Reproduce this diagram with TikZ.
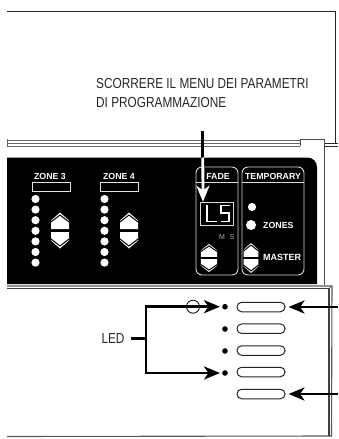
\documentclass[tikz,border=0pt]{standalone}
\usepackage{fontspec}
\setmainfont{Liberation Sans}
\newfontfamily\narrowfont[FakeStretch=0.815]{Liberation Sans}
\usetikzlibrary{arrows.meta}
\tikzset{
  x=1pt,y=-1pt,
  shell/.style={draw=black!70,line width=0.9pt},
  railgray/.style={draw=black!60,line width=1pt},
  panellabel/.style={text=white,font=\bfseries\fontsize{8.8}{9}\selectfont,inner sep=0pt},
  caption/.style={text=black!85,font=\narrowfont\fontsize{14.5}{19}\selectfont,inner sep=0pt,align=left},
  led/.style={circle,fill=white,draw=none,inner sep=0pt,minimum size=8.2pt},
  indicator/.style={circle,fill=black,draw=none,inner sep=0pt,minimum size=5.6pt},
  slot/.style={rounded corners=4.6pt,draw=black!85,fill=white,line width=1pt,minimum width=48pt,minimum height=9.5pt,inner sep=0pt},
  frame/.style={draw=white!85!black,line width=0.9pt,rounded corners=6pt},
  zonebar/.style={draw=white!90!black,line width=0.9pt,minimum width=38pt,minimum height=9pt,inner sep=0pt},
  pointer/.style={line width=2.8pt,-{Stealth[length=16pt,width=13pt,inset=4.5pt]},shorten >=2pt},
  pics/updown/.style={code={
    \fill[white] (0,-18) -- (9,-10) -- (9,-1.5) -- (-9,-1.5) -- (-9,-10) -- cycle;
    \fill[white] (0,18) -- (9,10) -- (9,1.5) -- (-9,1.5) -- (-9,10) -- cycle;
    \draw[black,line width=1pt] (-9,-8.5) -- (0,-15.5) -- (9,-8.5);
    \draw[black,line width=1pt] (-9,8.5) -- (0,15.5) -- (9,8.5);
  }}
}
\begin{document}
\begin{tikzpicture}
\useasboundingbox (0,0) rectangle (338,439);
% housing, upper part
\draw[black!85,line width=0.9pt] (7,11) -- (335,11) -- (335,143);
\draw[railgray] (7,140.5) -- (300,140.5);
\draw[railgray] (7,143.3) -- (300,143.3);
\draw[railgray] (7,146) -- (300,146);
\draw[railgray] (7,139) -- (7,147);
\draw[shell] (300,146) -- (300,139) -- (324.5,139) -- (324.5,285);
\draw[black!85,line width=0.9pt] (324.5,143) -- (338,143);
\draw[black!85,line width=0.9pt] (324.5,146.5) -- (338,146.5);
% black panel
\fill[black] (7,157.5) -- (307,157.5) .. controls (313,157.5) and (317,161.5) .. (317,167.5) -- (317,284) -- (7,284) -- cycle;
% lower housing
\draw[black!65,line width=1.1pt] (7,286) -- (332,286) -- (331.5,436) -- (7,436.5);
\draw[black!75,line width=1.1pt] (7,288.3) -- (329,288.3) -- (329,436);
\draw[black!65,line width=0.6pt] (329,288.3) -- (332,286);
% zones
\node[panellabel] (z3) at (50,176) {ZONE 3};
\node[panellabel] (z4) at (119,176) {ZONE 4};
\node[zonebar] (b3) at (51,186.5) {};
\node[zonebar] (b4) at (119.5,186.5) {};
\foreach \i/\yy in {1/199,2/209.6,3/220.2,4/230.8,5/241.4,6/252,7/262.6}{
  \node[led] (za\i) at (35.5,\yy) {};
  \node[led] (zb\i) at (104.5,\yy) {};
}
\pic at (60,230.5) {updown};
\pic at (129,230.5) {updown};
% fade and temporary frames
\draw[frame] (196,167) rectangle (238,275);
\draw[frame] (242,167) rectangle (304,275);
\draw[white!85!black,line width=0.9pt] (196,182) -- (238,182);
\draw[white!85!black,line width=0.9pt] (242,182) -- (304,182);
\node[panellabel] (fade) at (218,176) {FADE};
\node[panellabel] (temp) at (273,176) {TEMPORARY};
% display
\draw[white!85!black,line width=1pt] (200,202.5) rectangle (233,225);
\draw[white,line width=1.3pt] (207,205) -- (207,221.5) -- (217,221.5);
\draw[white,line width=1.3pt] (229.5,205.5) -- (221,205.5) -- (221,213) -- (229,213) -- (229,221.5) -- (220.5,221.5);
\node[inner sep=0pt,text=white!70!black,font=\fontsize{7}{7}\selectfont] (m) at (222,237) {M};
\node[inner sep=0pt,text=white!70!black,font=\fontsize{7}{7}\selectfont] (s) at (232,237) {S};
\pic[xscale=.89,yscale=.78] at (209,258) {updown};
% temporary content
\node[led] (t1) at (252,207) {};
\node[led,minimum size=10pt] (t2) at (251,225) {};
\node[panellabel,anchor=west] (zones) at (263,225.5) {ZONES};
\node[panellabel,anchor=west,font=\bfseries\fontsize{9}{10}\selectfont] (master) at (263,257) {MASTER};
\pic[xscale=.83,yscale=.83] at (251,258) {updown};
% slots and LED dots
\node[indicator] (d1) at (225,306.7) {};
\node[indicator] (d2) at (225,329) {};
\node[indicator] (d3) at (225,351) {};
\node[indicator] (d4) at (225,373) {};
\node[slot] (s1) at (261,307) {};
\node[slot] (s2) at (261,328.7) {};
\node[slot] (s3) at (261,350.5) {};
\node[slot] (s4) at (261,372) {};
\node[slot] (s5) at (261,394) {};
% caption and top arrow
\node[caption,anchor=north west] (cap) at (96,78.5) {SCORRERE IL MENU DEI PARAMETRI\\DI PROGRAMMAZIONE};
\coordinate (topstart) at (202.8,131);
\coordinate (panelin) at (202.8,157.5);
\node[inner sep=0pt] (lsbox) at (203,202.5) {};
\draw[black,line width=2.8pt] (topstart) -- (panelin);
\draw[white,line width=2.8pt,-{Stealth[length=16pt,width=13pt,inset=4.5pt]}] (panelin) -- (lsbox);
% LED callout
\node[inner sep=0pt,text=black!85,font=\narrowfont\fontsize{14.5}{15}\selectfont] (ledlabel) at (113,338.5) {LED};
\coordinate (bend) at (146,338.5);
\coordinate (bendtop) at (146,306.7);
\coordinate (bendbot) at (146,373);
\draw[black,line width=2.8pt] (ledlabel.east) ++(6,0) -- (bend);
\draw[pointer] (bendtop) -- (d1);
\draw[pointer] (bendbot) -- (d4);
\draw[black,line width=2.8pt,line cap=rect] (bendtop) -- (bendbot);
\node[circle,draw=black,line width=0.8pt,inner sep=0pt,minimum size=13pt] (ring) at (193,306.7) {};
% right arrows
\coordinate (r1) at (338,307);
\coordinate (r2) at (338,394);
\draw[pointer,shorten >=3pt] (r1) -- (s1);
\draw[pointer,shorten >=3pt] (r2) -- (s5);
\end{tikzpicture}
\end{document}
